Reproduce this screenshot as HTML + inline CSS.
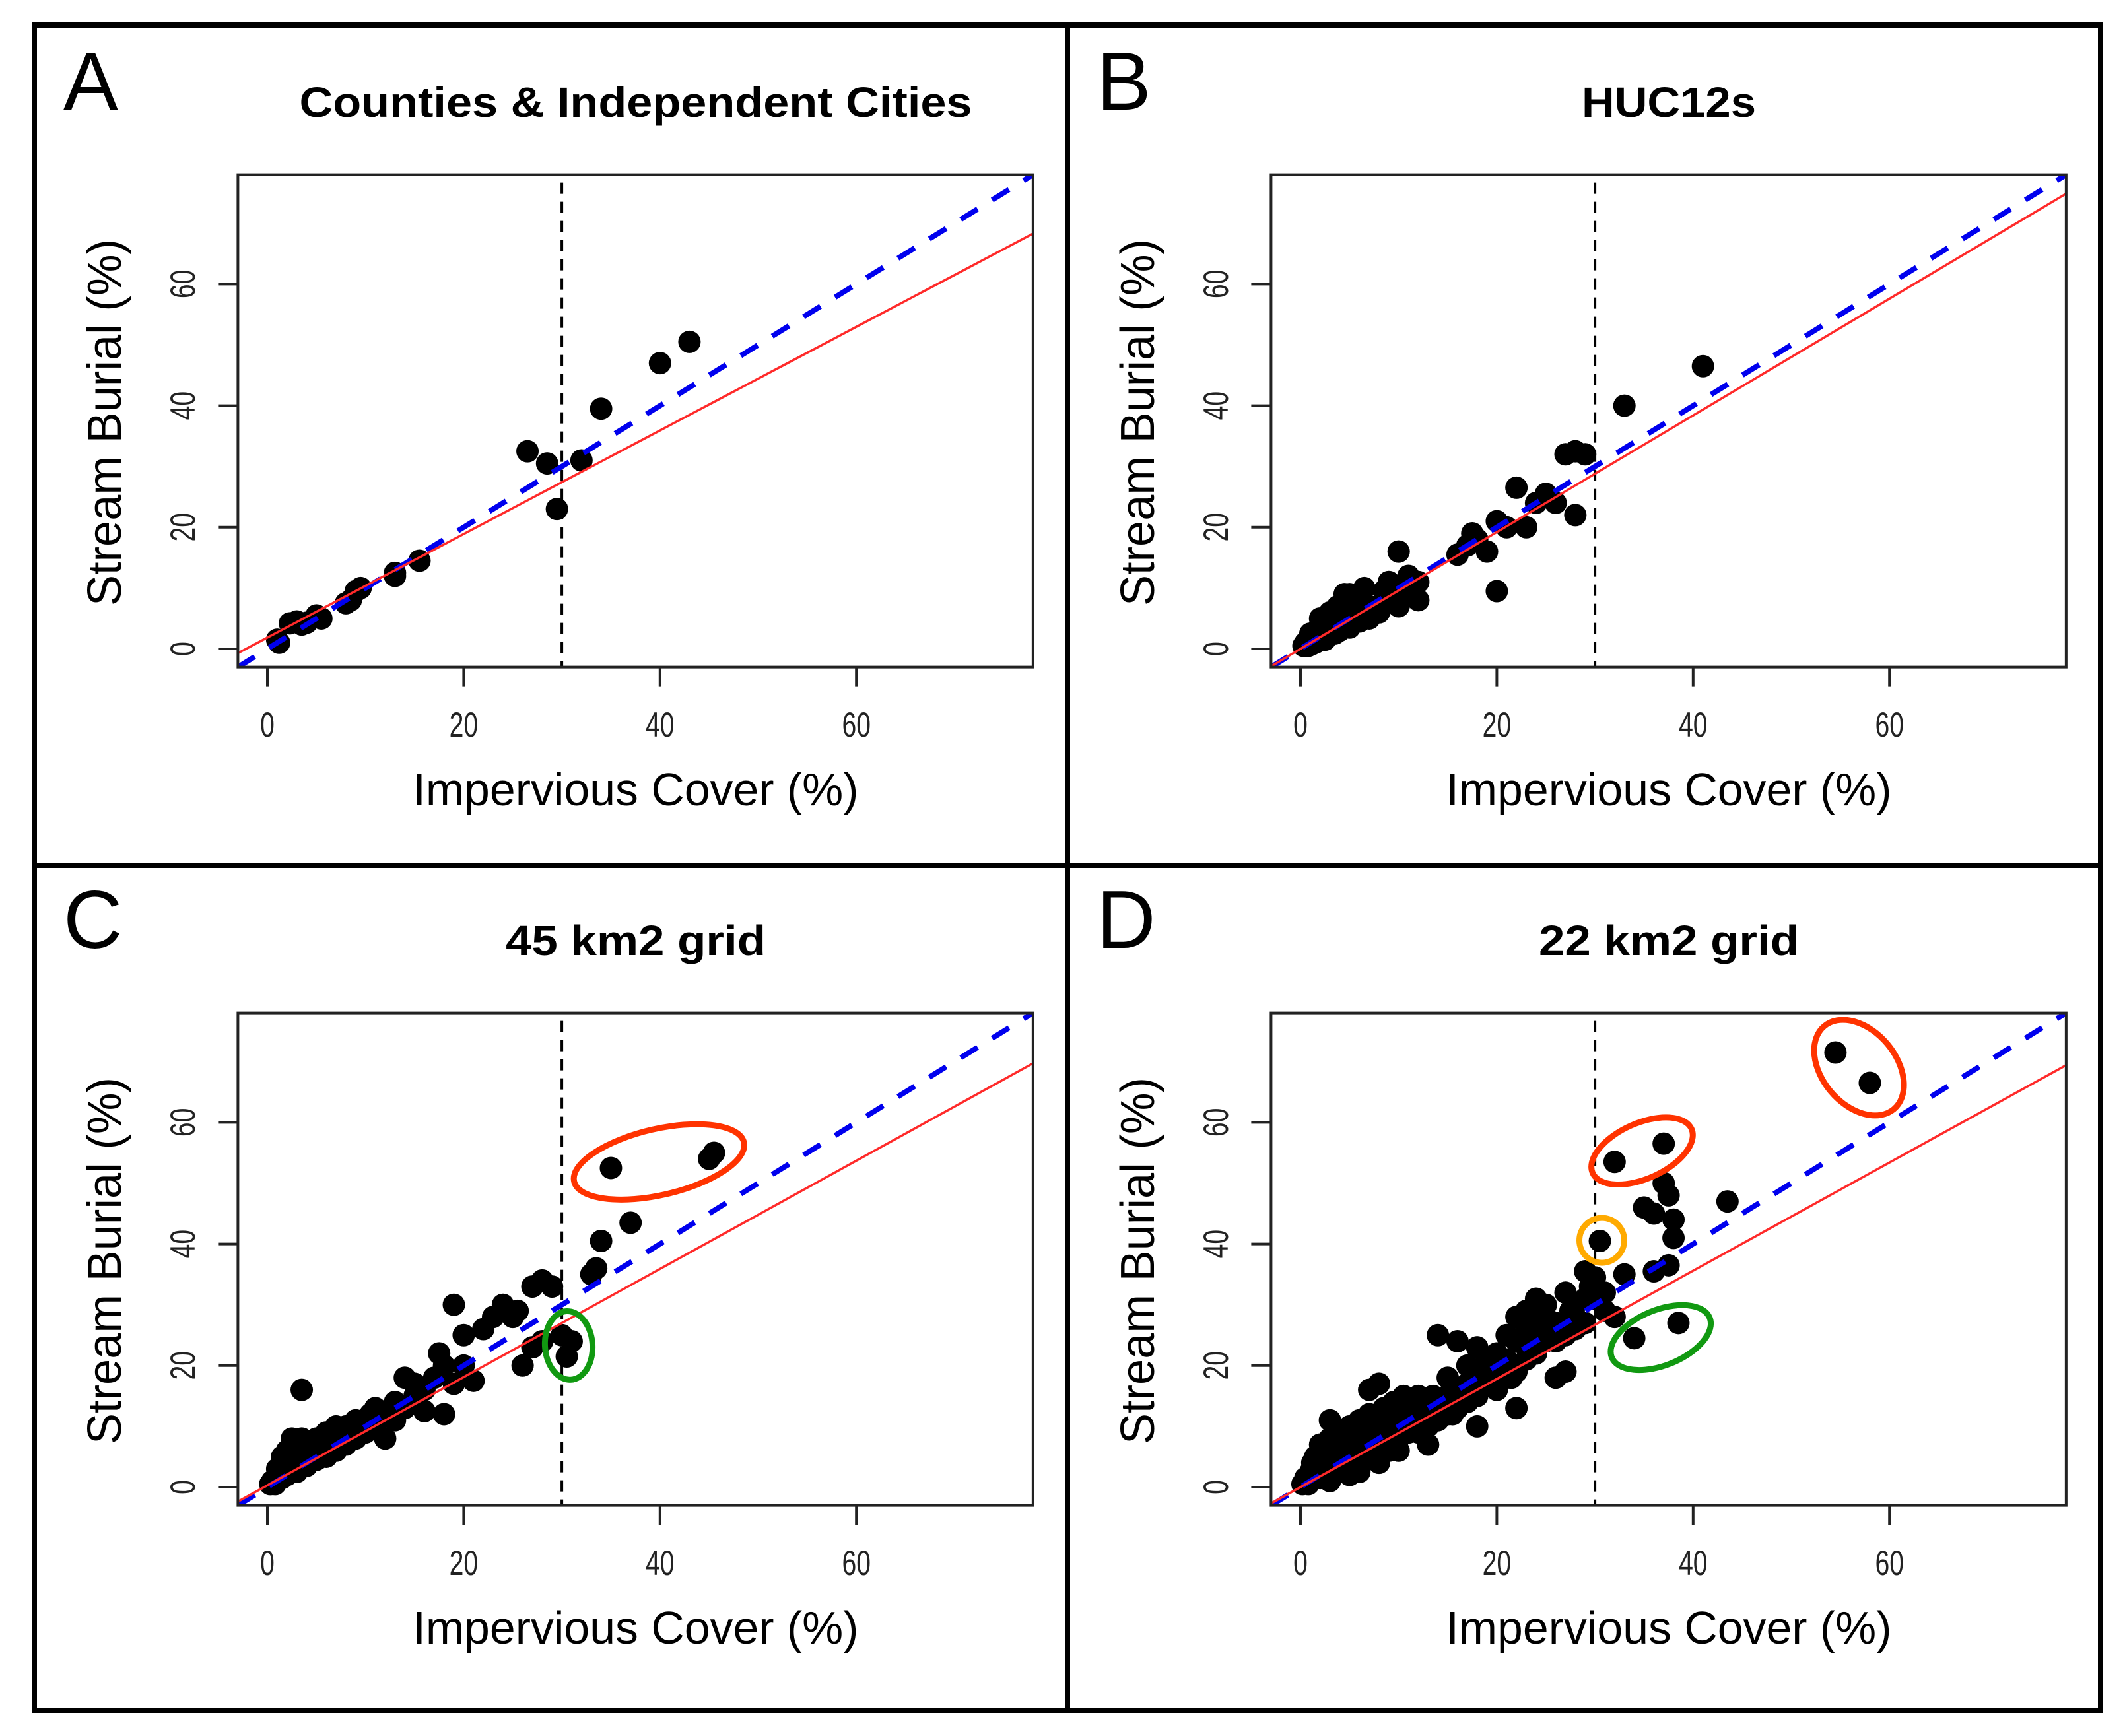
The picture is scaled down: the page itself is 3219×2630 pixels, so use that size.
<!DOCTYPE html>
<html><head><meta charset="utf-8"><style>
html,body{margin:0;padding:0;background:#fff;}
svg{display:block;font-family:"Liberation Sans",sans-serif;}
</style></head><body>
<svg id="fig" width="3219" height="2630" viewBox="0 0 3219 2630" xmlns="http://www.w3.org/2000/svg">
<rect x="0" y="0" width="3219" height="2630" fill="#fff"/>
<g id="frame" fill="none" stroke="#000" stroke-width="8">
<rect x="52" y="38" width="3130" height="2553"/>
<line x1="1617" y1="38" x2="1617" y2="2591"/>
<line x1="52" y1="1311" x2="3182" y2="1311"/>
</g>
</svg>
<script>
// ---- data ----
const panelLetters = ["A","B","C","D"];
const panelTitles = ["Counties & Independent Cities","HUC12s","45 km2 grid","22 km2 grid"];
const titleWidths = [1019, 264, 394, 394];
const xTicks = [0,20,40,60];
const yTicks = [0,20,40,60];
const cutoffX = 30;
const redIntercepts = [1.85, 0.0, 0.3, 0.0];
const redSlopes = [0.852, 0.96, 0.89, 0.89];

const ptsA_x = [1,1.2,2.3,3,3.5,4,5,5.5,8,8.5,9,9.5,13,13,15.5,26.5,28.5,29.5,32,34,40,43];
const ptsA_y = [1.5,1,4.2,4.5,4,4.3,5.5,5,7.5,8,9.5,10,12.5,12,14.5,32.5,30.5,23,31,39.5,47,50.5];

const ptsB_x = [0.3,0.5,1,1.5,1.5,2,2,2.5,2.5,3,3,3.5,4,4,4.5,5,5,5,6,6,6,7,7,7,8,8,9,9,10,10,10,11,11,12,12,3,2,1,0.8,1.2,2.8,3.8,4.8,5.5,6.5,8.5,16,17,17.5,18,19,20,20,21,22,23,24,25,26,27,28,29,28,33,41];
const ptsB_y = [0.5,1,1.5,1,2,2.5,4,1.5,3,3.5,6,2.5,3,5.5,9,3.5,4,9,4.5,5,8,5,6,7,6,7,9,11,16,10,7,10,12,8,11,5,5,2.5,0.5,0.8,4.5,7,6,6.5,10,9.5,15.5,17,19,18,16,9.5,21,20,26.5,20,24,25.5,24,32,32.5,32,22,40,46.5];

const ptsC_x = [0.3,0.5,0.8,1,1,1.5,1.5,2,2,2.5,2.5,3,3,3.5,3.5,4,4,4.5,5,5,5.5,6,6,6.5,7,7,7.5,8,8,8.5,9,9,9.5,10,10,10.5,11,11,12,12,13,13,14,14,15,15,16,16,17,17.5,18,18,19,19,20,20,21,22,23,24,25,25.5,26,27,27,28,28,29,30,30.5,31,33,33.5,34,35,37,45,45.5,3.5,1.5,2,2.5];
const ptsC_y = [0.5,1,0.5,2,3,1.5,4,2,5,3,6,2.5,7,4,8,3.5,6,5,4.5,8,6,5,9,7,6,10,8,7,10,9,8,11,10,9,11,12,10,13,8,12,11,14,13,18,15,17,16,12.5,18,22,20,12,30,17,20,25,17.5,26,28,30,28,29,20,23,33,34,24,33,25,21.5,24,35,36,40.5,52.5,43.5,54,55,16,5,6,8];

const ptsD_x = [0.2,0.5,0.8,1,1,1.2,1.5,1.5,2,2,
 2,2.5,2.5,3,3,3,3.5,4,4,4,
 4.5,5,5,5.5,6,6,6.5,7,7,7.5,
 8,8,8,9,9,9.5,10,10,10,11,
 11,12,12,12.5,13,13,14,14,15,15,
 16,16,17,17,18,18,18,19,19,20,
 20,21,21,22,22,22,23,23,24,24,
 25,25,26,26,27,27,28,28,29,29,
 30,30.5,31,32,32,33,35,36,36,37,
 37,37.5,38,38,37.5,34,38.5,43.5,54.5,58,
 6,8,5,3,10,1.5,2,4,6,9,
 11,12,13,14,15,16,17,18,19,20,
 21,22,23,24,25,26,27,28,29,30,
 11.5,13.5,15.5,17.5,19.5,21.5,23.5,25.5,27.5,29.5,
 12,14,16,18,20,22,24,26,28,31,
 7,8.5,9.5,10.5,13,15,17,19,21,23];
const ptsD_y = [0.5,1.5,0.5,2.5,1,4,2,3.5,1.5,5,
 3,6,2,11,4,8,3,9,5,2.5,
 7,4,10,6,4,9,7,16,5,9,
 17,6,11,8,12,10,8,14,11,13,
 9,15,10,12,7,14,25,13,18,14,
 24,16,20,15,23,18,10,21,19,22,
 16,25,20,28,24,13,29,26,31,27,
 30,28,27,18,32,19,30,26,31,35.5,
 34.5,40.5,29,28,53.5,35,46,45,35.5,56.5,
 50,48,44,41,36.5,24.5,27,47,71.5,66.5,
 2.5,4,2,1,6,5,7,8,11,6,
 10,12,11,13,15,14,17,16,18,19,
 21,20,23,22,24,26,25,28,27,31,
 12,15,12,17,20,18,25,27,29,33,
 9,11,13,15,17,19,22,24,27,32,
 12,13,14,15,10,12,14,17,18,21];

const panelPoints = [[ptsA_x,ptsA_y],[ptsB_x,ptsB_y],[ptsC_x,ptsC_y],[ptsD_x,ptsD_y]];

// annotation ellipses
const ellPanel = [2,2,3,3,3,3];
const ellCx = [39.9,30.7,56.9,34.8,30.7,36.7];
const ellCy = [53.5,23.3,69,55.3,40.6,24.6];
const ellRx = [132,36,82,82,34,80];
const ellRy = [50,52,56,42,34,42];
const ellRot = [-13,-4,50,-24,0,-22];
const ellColor = ["#ff3300","#119911","#ff3300","#ff3300","#ffaa00","#119911"];

// ---- drawing ----
const NS = "http://www.w3.org/2000/svg";
const svg = document.getElementById("fig");
const offX = [0,1565,0,1565];
const offY = [0,0,1270,1270];
const X0 = 405, XS = 14.87, Y0 = 983, YS = 9.21, LO = -3, HI = 78;
function sx(v){ return X0 + v*XS; }
function sy(v){ return Y0 - v*YS; }
function mk(tag, attrs, parent){
  const e = document.createElementNS(NS, tag);
  for (const k in attrs) e.setAttribute(k, attrs[k]);
  parent.appendChild(e);
  return e;
}

for (let p=0; p<4; p++){
  const g = mk("g",{transform:"translate("+offX[p]+","+offY[p]+")"},svg);
  
  

  const letter = mk("text",{x:96,y:166,"font-size":124},g);
  letter.textContent = panelLetters[p];
  
  

  const title = mk("text",{x:963,y:177,"font-size":64,"font-weight":"bold","text-anchor":"middle",textLength:titleWidths[p],lengthAdjust:"spacingAndGlyphs"},g);
  title.textContent = panelTitles[p];
  
  

  const cid = "clip"+p;
  const cp = mk("clipPath",{id:cid},g);
  mk("rect",{x:sx(LO),y:sy(HI),width:sx(HI)-sx(LO),height:sy(LO)-sy(HI)},cp);
  const plot = mk("g",{"clip-path":"url(#"+cid+")"},g);
  
  

  const cut = mk("line",{x1:sx(cutoffX),x2:sx(cutoffX),y1:sy(HI)+12,y2:sy(LO),stroke:"#000","stroke-width":4,"stroke-dasharray":"17 12"},plot);
  
  

  const xs = panelPoints[p][0], ys = panelPoints[p][1];
  for (let i=0;i<xs.length;i++){
    const c = mk("circle",{cx:sx(xs[i]),cy:sy(ys[i]),r:17,fill:"#000"},plot);
    
    
  }

  const one = mk("line",{x1:sx(LO),y1:sy(LO),x2:sx(HI),y2:sy(HI),stroke:"#0000ee","stroke-width":8,"stroke-dasharray":"30 26"},plot);
  
  

  const a = redIntercepts[p], b = redSlopes[p];
  const reg = mk("line",{x1:sx(LO),y1:sy(a+b*LO),x2:sx(HI),y2:sy(a+b*HI),stroke:"#ff2a2a","stroke-width":3.5},plot);
  
  

  const box = mk("rect",{x:sx(LO),y:sy(HI),width:sx(HI)-sx(LO),height:sy(LO)-sy(HI),fill:"none",stroke:"#222","stroke-width":4},g);
  
  

  for (let i=0;i<xTicks.length;i++){
    const t = mk("line",{x1:sx(xTicks[i]),x2:sx(xTicks[i]),y1:sy(LO),y2:sy(LO)+30,stroke:"#222","stroke-width":4},g);
    
    
    const l = mk("text",{x:0,y:0,"font-size":46,"text-anchor":"middle",fill:"#222",transform:"translate("+sx(xTicks[i])+",1116) scale(0.85,1.15)"},g);
    l.textContent = xTicks[i];
    
    
  }
  for (let i=0;i<yTicks.length;i++){
    const t = mk("line",{x1:sx(LO)-30,x2:sx(LO),y1:sy(yTicks[i]),y2:sy(yTicks[i]),stroke:"#222","stroke-width":4},g);
    
    
    const l = mk("text",{x:0,y:0,"font-size":46,"text-anchor":"middle",fill:"#222",transform:"translate(295,"+sy(yTicks[i])+") rotate(-90) scale(0.85,1.15)"},g);
    l.textContent = yTicks[i];
    
    
  }
  const xl = mk("text",{x:963,y:1220,"font-size":70,"text-anchor":"middle",textLength:675,lengthAdjust:"spacingAndGlyphs"},g);
  xl.textContent = "Impervious Cover (%)";
  
  
  const yl = mk("text",{x:0,y:0,"font-size":72,"text-anchor":"middle",textLength:556,lengthAdjust:"spacingAndGlyphs",transform:"translate(183,640) rotate(-90)"},g);
  yl.textContent = "Stream Burial (%)";
  
  

  for (let k=0;k<ellPanel.length;k++){
    if (ellPanel[k]!==p) continue;
    const cx = sx(ellCx[k]), cy = sy(ellCy[k]);
    const e = mk("ellipse",{cx:cx,cy:cy,rx:ellRx[k],ry:ellRy[k],fill:"none",stroke:ellColor[k],"stroke-width":9,transform:"rotate("+ellRot[k]+","+cx+","+cy+")"},g);
    
    
  }
}
</script>
</body></html>
